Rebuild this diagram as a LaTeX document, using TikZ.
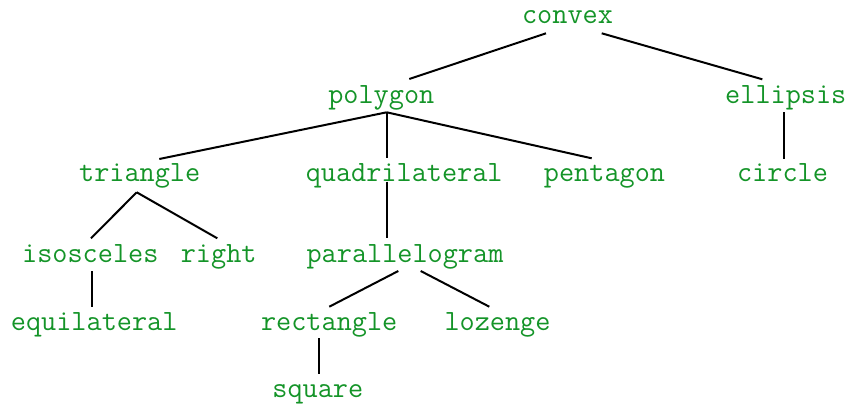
\documentclass[tikz,border=0pt]{standalone}
\usepackage{fontspec}
\definecolor{labelgreen}{RGB}{20,148,40}
\begin{document}
\begin{tikzpicture}[x=1pt,y=-1pt,
  lbl/.style={anchor=base,inner sep=0pt,text=labelgreen,font=\ttfamily\fontsize{29.4}{34}\selectfont},
  edge/.style={draw=black,line width=2pt}]
\useasboundingbox (0,0) rectangle (848,404);
\node[lbl] (convex) at (567.5,24) {convex};
\node[lbl] (polygon) at (381.3,103.5) {polygon};
\node[lbl] (ellipsis) at (785.8,103.5) {ellipsis};
\node[lbl] (triangle) at (139.7,181.5) {triangle};
\node[lbl] (quadrilateral) at (404.2,181.5) {quadrilateral};
\node[lbl] (pentagon) at (604.5,181.5) {pentagon};
\node[lbl] (circle) at (782.5,181.5) {circle};
\node[lbl] (isosceles) at (90.3,262) {isosceles};
\node[lbl] (right) at (218.7,262) {right};
\node[lbl] (parallelogram) at (405,262) {parallelogram};
\node[lbl] (equilateral) at (94.2,330) {equilateral};
\node[lbl] (rectangle) at (329.2,330) {rectangle};
\node[lbl] (lozenge) at (497.5,330) {lozenge};
\node[lbl] (square) at (317.8,397) {square};
\draw[edge] ([shift={(-21.5,9.3)}]convex.base) -- ([shift={(28,-24.5)}]polygon.base);
\draw[edge] ([shift={(34.2,9.3)}]convex.base) -- ([shift={(-23.5,-24.2)}]ellipsis.base);
\draw[edge] ([shift={(5.4,8.8)}]polygon.base) -- ([shift={(19.6,-22.5)}]triangle.base);
\draw[edge] ([shift={(5.4,8.8)}]polygon.base) -- ([shift={(-17.5,-23.2)}]quadrilateral.base);
\draw[edge] ([shift={(5.4,8.8)}]polygon.base) -- ([shift={(-12.8,-23.2)}]pentagon.base);
\draw[edge] ([shift={(-2.1,8.8)}]ellipsis.base) -- ([shift={(-2.1,-22.5)}]circle.base -| ellipsis.base);
\draw[edge] ([shift={(-3,10.8)}]triangle.base) -- ([shift={(0.7,-23.7)}]isosceles.base);
\draw[edge] ([shift={(-3,10.8)}]triangle.base) -- ([shift={(-1.4,-23.7)}]right.base);
\draw[edge] ([shift={(-17.5,0.2)}]quadrilateral.base) -- ([shift={(-18.3,-23.7)}]parallelogram.base);
\draw[edge] ([shift={(1.4,9)}]isosceles.base) -- ([shift={(-2.5,-23.3)}]equilateral.base);
\draw[edge] ([shift={(-6.7,9)}]parallelogram.base) -- ([shift={(0.1,-23.3)}]rectangle.base);
\draw[edge] ([shift={(15.7,9)}]parallelogram.base) -- ([shift={(-8.2,-23.3)}]lozenge.base);
\draw[edge] ([shift={(-10.5,8.3)}]rectangle.base) -- ([shift={(0.9,-22.7)}]square.base);
\end{tikzpicture}
\end{document}
